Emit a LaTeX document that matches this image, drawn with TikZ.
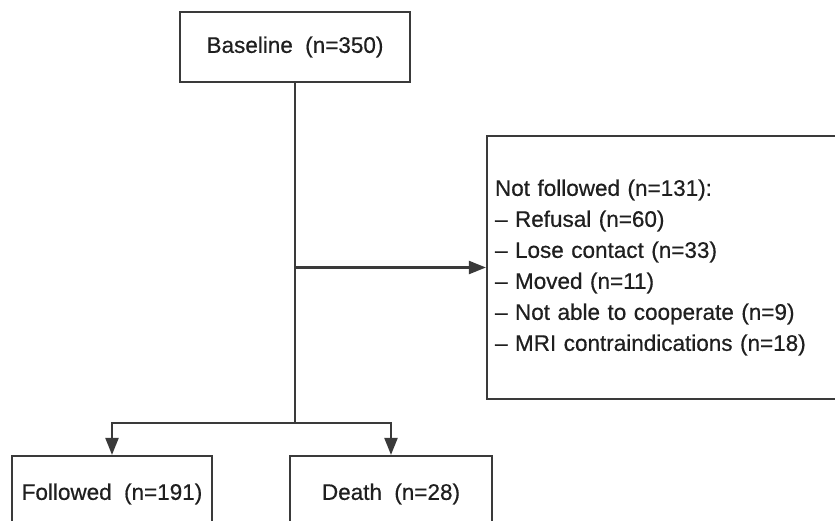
\documentclass[tikz,border=0pt]{standalone}
\usepackage{fontspec}
\setmainfont{Liberation Sans}[BoldFont={Liberation Sans},BoldFeatures={FakeBold=0.6}]
\usetikzlibrary{arrows.meta,positioning}
\definecolor{linegray}{HTML}{3A3A3A}
\tikzset{>={Triangle[length=17pt,width=13pt]},x=1pt,y=-1pt}
\tikzset{flow box/.style={draw=linegray,line width=2.2pt,rectangle,text=black!88,
        font=\fontsize{22.5}{26}\selectfont\bfseries}}
\tikzset{flow line/.style={draw=linegray,line width=2.2pt}}

\begin{document}
\begin{tikzpicture}
                \useasboundingbox (0,0) rectangle (835,520);
                \node[flow box,minimum width=230pt,minimum height=70pt] (base) at (295,47)
                    {Baseline\hspace{0.55em}(n=350)};
                \node[flow box,minimum width=355pt,minimum height=263pt,text width=339pt,
                      inner xsep=8pt,align=left,font=\fontsize{22.5}{31}\selectfont\bfseries] (nf) at (664.5,267.5)
                    {Not followed (n=131):\\
                     – Refusal (n=60)\\
                     – Lose contact (n=33)\\
                     – Moved (n=11)\\
                     – Not able to cooperate (n=9)\\
                     – MRI contraindications (n=18)};
                \node[flow box,minimum width=200pt,minimum height=76pt] (fol) at (112,494)
                    {Followed\hspace{0.55em}(n=191)};
                \node[flow box,minimum width=202pt,minimum height=76pt] (dth) at (391,494)
                    {Death\hspace{0.55em}(n=28)};
                \coordinate (split) at (base.south |- 0,423);
                \draw[flow line] (base.south) -- (split);
                \draw[flow line,->] (base.south |- nf.west) -- (nf.west);
                \draw[flow line,->] (split) -| (fol.north);
                \draw[flow line,->] (split) -| (dth.north);
\end{tikzpicture}
\end{document}
